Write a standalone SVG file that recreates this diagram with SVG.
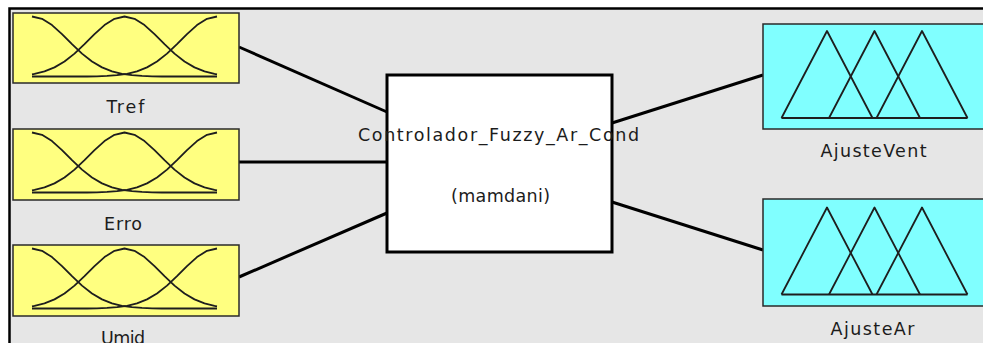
<svg xmlns="http://www.w3.org/2000/svg" xmlns:xlink="http://www.w3.org/1999/xlink" width="983" height="343" viewBox="0 0 983 343">
  <style>
    .canvas { fill: #e6e6e6; }
    .frame { fill: none; stroke: #000; stroke-width: 2.5; }
    .inbox { fill: #ffff80; stroke: #2a2a2a; stroke-width: 1.5; }
    .outbox { fill: #80ffff; stroke: #2a2a2a; stroke-width: 1.5; }
    .sysbox { fill: #fff; stroke: #000; stroke-width: 3; }
    .mf { fill: none; stroke: #1e1e1e; stroke-width: 1.8; stroke-linejoin: round; }
    .wire { fill: none; stroke: #000; stroke-width: 3; stroke-linecap: butt; }
    .label { font-family: "DejaVu Sans", Verdana, sans-serif; font-size: 17.5px; fill: #1c1c1c; text-anchor: middle; }
  </style>
  <defs>
    <!-- three gaussian membership functions, box-local coordinates -->
    <g id="gauss-set">
      <polyline class="mf" points="19,3.5 29,5.8 39,12.1 49,21.1 59,31.1 69,40.6 79,48.5 89,54.4 99,58.4 109,60.9 119,62.2 129,62.9 139,63.3 149,63.5 204,63.5"/>
      <polyline class="mf" points="19,61.3 21.5,60.9 31.5,58.4 41.5,54.4 51.5,48.5 61.5,40.6 71.5,31.1 81.5,21.1 91.5,12.1 101.5,5.8 111.5,3.5 121.5,5.8 131.5,12.1 141.5,21.1 151.5,31.1 161.5,40.6 171.5,48.5 181.5,54.4 191.5,58.4 201.5,60.9 204,61.3"/>
      <polyline class="mf" points="19,63.5 74,63.5 84,63.3 94,62.9 104,62.2 114,60.9 124,58.4 134,54.4 144,48.5 154,40.6 164,31.1 174,21.1 184,12.1 194,5.8 204,3.5"/>
    </g>
    <!-- three triangular membership functions, box-local coordinates -->
    <g id="tri-set">
      <polyline class="mf" points="18.5,95 64,8 109.5,95"/>
      <polyline class="mf" points="66,95 111.5,8 157,95"/>
      <polyline class="mf" points="113.5,95 159,8 204.5,95"/>
      <line class="mf" x1="18.5" y1="95" x2="204.5" y2="95" stroke-width="2"/>
    </g>
  </defs>

  <!-- editor canvas -->
  <rect x="0" y="0" width="983" height="343" fill="#fff"/>
  <rect class="canvas" x="10" y="9" width="973" height="334"/>
  <path class="frame" d="M9.5,343 V8.5 H983"/>

  <!-- connectors -->
  <g id="connectors">
    <line class="wire" x1="239" y1="47" x2="387" y2="112"/>
    <line class="wire" x1="239" y1="162" x2="387" y2="162"/>
    <line class="wire" x1="239" y1="277" x2="387" y2="213"/>
    <line class="wire" x1="612" y1="123" x2="763" y2="75"/>
    <line class="wire" x1="612" y1="202" x2="763" y2="250"/>
  </g>

  <!-- inputs -->
  <g id="input-tref">
    <rect class="inbox" x="13" y="13" width="226" height="70"/>
    <use xlink:href="#gauss-set" transform="translate(13,13)"/>
    <text class="label" x="125.5" y="112.5" textLength="38" lengthAdjust="spacing">Tref</text>
  </g>
  <g id="input-erro">
    <rect class="inbox" x="13" y="129" width="226" height="71"/>
    <use xlink:href="#gauss-set" transform="translate(13,129)"/>
    <text class="label" x="123" y="229.5" textLength="38" lengthAdjust="spacing">Erro</text>
  </g>
  <g id="input-umid">
    <rect class="inbox" x="13" y="245" width="226" height="71"/>
    <use xlink:href="#gauss-set" transform="translate(13,245)"/>
    <text class="label" x="123" y="344" textLength="44" lengthAdjust="spacing">Umid</text>
  </g>

  <!-- fuzzy inference system -->
  <g id="system">
    <rect class="sysbox" x="387" y="75" width="225" height="177"/>
    <text class="label" x="498.5" y="141" textLength="281" lengthAdjust="spacing">Controlador_Fuzzy_Ar_Cond</text>
    <text class="label" x="500.5" y="201.5" textLength="99" lengthAdjust="spacing">(mamdani)</text>
  </g>

  <!-- outputs -->
  <g id="output-ajustevent">
    <rect class="outbox" x="763" y="24" width="230" height="105"/>
    <use xlink:href="#tri-set" transform="translate(763,23)"/>
    <text class="label" x="873.5" y="157" textLength="106" lengthAdjust="spacing">AjusteVent</text>
  </g>
  <g id="output-ajustear">
    <rect class="outbox" x="763" y="199" width="230" height="107"/>
    <use xlink:href="#tri-set" transform="translate(763,199.5)"/>
    <text class="label" x="872.5" y="335" textLength="84" lengthAdjust="spacing">AjusteAr</text>
  </g>
</svg>
